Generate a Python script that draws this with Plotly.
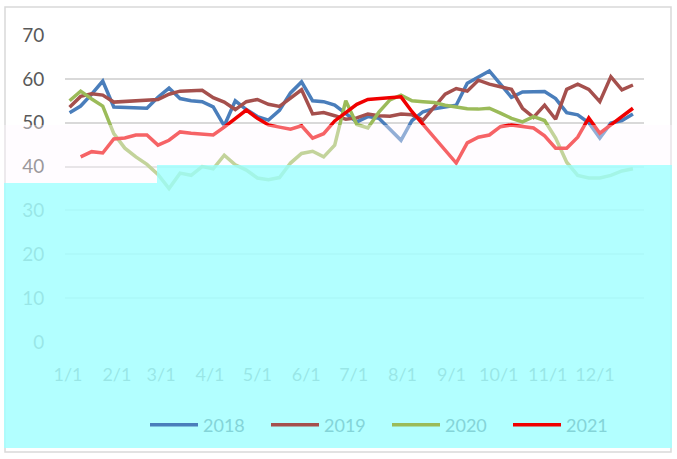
import pandas as pd
import plotly.graph_objects as go

# ---- data (weekly readings, one value per week) ----
week_dates = pd.date_range("2021-01-02", periods=52, freq="7D")

s2018 = [52.3, 53.8, 56.5, 59.5, 53.6, 53.5, 53.5, 53.3, 55.8, 57.9,
         55.5, 55.0, 54.8, 53.6, 49.3, 55.0, 53.0, 51.4, 50.6, 52.8,
         56.8, 59.3, 55.0, 54.8, 54.0, 52.0, 50.2, 51.4, 51.0, 48.5,
         46.0, 50.5, 52.5, 53.2, 53.6, 54.0, 59.0, 60.3, 61.8, 58.8,
         55.8, 57.0, 57.1, 57.1, 55.5, 52.3, 51.8, 50.0, 46.5, 49.9,
         50.5, 52.0]
s2019 = [53.5, 56.0, 56.6, 56.3, 54.7, 54.8, 55.0, 55.2, 55.3, 56.5,
         57.2, 57.3, 57.4, 55.7, 54.7, 53.0, 54.8, 55.3, 54.2, 53.7,
         55.5, 57.5, 52.0, 52.3, 51.6, 50.8, 51.1, 52.0, 51.6, 51.5,
         52.0, 51.8, 50.6, 53.5, 56.5, 57.8, 57.2, 59.7, 58.8, 58.2,
         57.6, 53.3, 51.2, 54.0, 50.8, 57.6, 58.8, 57.6, 54.8, 60.5,
         57.5, 58.6]
s2020 = [55.0, 57.2, 55.4, 53.8, 47.5, 44.2, 42.2, 40.5, 38.2, 35.0,
         38.5, 38.0, 40.0, 39.5, 42.6, 40.4, 39.2, 37.4, 37.0, 37.5,
         40.8, 43.0, 43.5, 42.2, 44.9, 55.0, 49.6, 48.8, 52.4, 55.2,
         56.3, 55.0, 54.8, 54.6, 54.0, 53.6, 53.2, 53.1, 53.3, 52.2,
         51.0, 50.2, 51.4, 50.5, 46.5, 41.0, 38.0, 37.4, 37.4, 38.0,
         39.0, 39.5]
s2021 = [None, 42.2, 43.4, 43.1, 46.3, 46.5, 47.2, 47.2, 44.9, 46.0,
         47.9, 47.6, 47.5, 47.2, 49.0, 51.0, 52.9, 51.0, 49.5, 49.0,
         48.5, 49.3, 46.5, 47.5, 50.4, 52.3, 54.2, 55.3, 55.5, 55.7,
         55.9, 52.5, 49.5, 46.5, 43.8, 40.8, 45.4, 46.7, 47.2, 49.1,
         49.5, 49.2, 48.8, 47.0, 44.2, 44.2, 46.7, 51.1, 47.6, 49.5,
         51.5, 53.3]

series_names = ["2018", "2019", "2020", "2021"]
series_values = [s2018, s2019, s2020, s2021]
series_colors = ["#4A7EBB", "#A5504D", "#9BBB59", "#F00000"]

tick_dates = pd.date_range("2021-01-01", periods=12, freq="MS")
tick_labels = ["1/1", "2/1", "3/1", "4/1", "5/1", "6/1",
               "7/1", "8/1", "9/1", "10/1", "11/1", "12/1"]
y_ticks = [0, 10, 20, 30, 40, 50, 60, 70]

# ---- figure ----
W, H = 677, 459
ML, MR, MT, MB = 65, 33, 35, 117
PW, PH = W - ML - MR, H - MT - MB


def px(xp):
    return (xp - ML) / PW


def py(yp):
    return (H - MB - yp) / PH


fig = go.Figure()
for name, vals, col in zip(series_names, series_values, series_colors):
    fig.add_trace(go.Scatter(
        x=week_dates, y=vals, name=name, mode="lines",
        line=dict(color=col, width=3.5), connectgaps=False,
    ))

font_family = "Lato, 'Open Sans', sans-serif"

fig.update_layout(
    width=W, height=H,
    margin=dict(l=ML, r=MR, t=MT, b=MB, autoexpand=False),
    paper_bgcolor="white", plot_bgcolor="white",
    showlegend=True,
    legend=dict(orientation="h", x=px(387), xanchor="center",
                y=py(425), yanchor="middle",
                font=dict(family=font_family, size=18, color="#84d4d8"),
                bgcolor="rgba(0,0,0,0)", itemwidth=48,
                entrywidth=58, entrywidthmode="pixels"),
    xaxis=dict(type="date",
               range=["2020-12-30 02:00", "2022-01-01"],
               tickvals=tick_dates, ticktext=tick_labels,
               showgrid=False, zeroline=False, showline=False,
               ticks="outside", ticklen=16, tickcolor="rgba(0,0,0,0)",
               tickfont=dict(family=font_family, size=18, color="#595959")),
    yaxis=dict(range=[0, 70], tickvals=y_ticks,
               showgrid=True, gridcolor="#D9D9D9", gridwidth=1.5,
               zeroline=False, showline=False,
               ticks="outside", ticklen=16, tickcolor="rgba(0,0,0,0)",
               tickfont=dict(family=font_family, size=19, color="#595959")),
)

# chart-area border
fig.add_shape(type="rect", xref="paper", yref="paper",
              x0=px(5), x1=px(671), y0=py(452), y1=py(7),
              line=dict(color="#D9D9D9", width=1.5),
              fillcolor="rgba(0,0,0,0)", layer="below")

# washed-out band and cyan block seen over the lower part of the picture
band_fill = "rgba(255,248,255,0.40)"
cyan_fill = "rgba(165,255,255,0.85)"
fig.add_shape(type="rect", xref="paper", yref="paper",
              x0=px(4), x1=px(672), y0=py(165), y1=py(125),
              line=dict(width=0), fillcolor=band_fill, layer="above")
fig.add_shape(type="rect", xref="paper", yref="paper",
              x0=px(4), x1=px(157), y0=py(183), y1=py(165),
              line=dict(width=0), fillcolor=band_fill, layer="above")
fig.add_shape(type="rect", xref="paper", yref="paper",
              x0=px(4), x1=px(672), y0=py(448), y1=py(183),
              line=dict(width=0), fillcolor=cyan_fill, layer="above")
fig.add_shape(type="rect", xref="paper", yref="paper",
              x0=px(157), x1=px(672), y0=py(183), y1=py(165),
              line=dict(width=0), fillcolor=cyan_fill, layer="above")

fig.write_html("out.html",
               config={"displayModeBar": False},
               post_script="document.body.style.margin='0';"
                           "document.body.style.overflow='hidden';")
